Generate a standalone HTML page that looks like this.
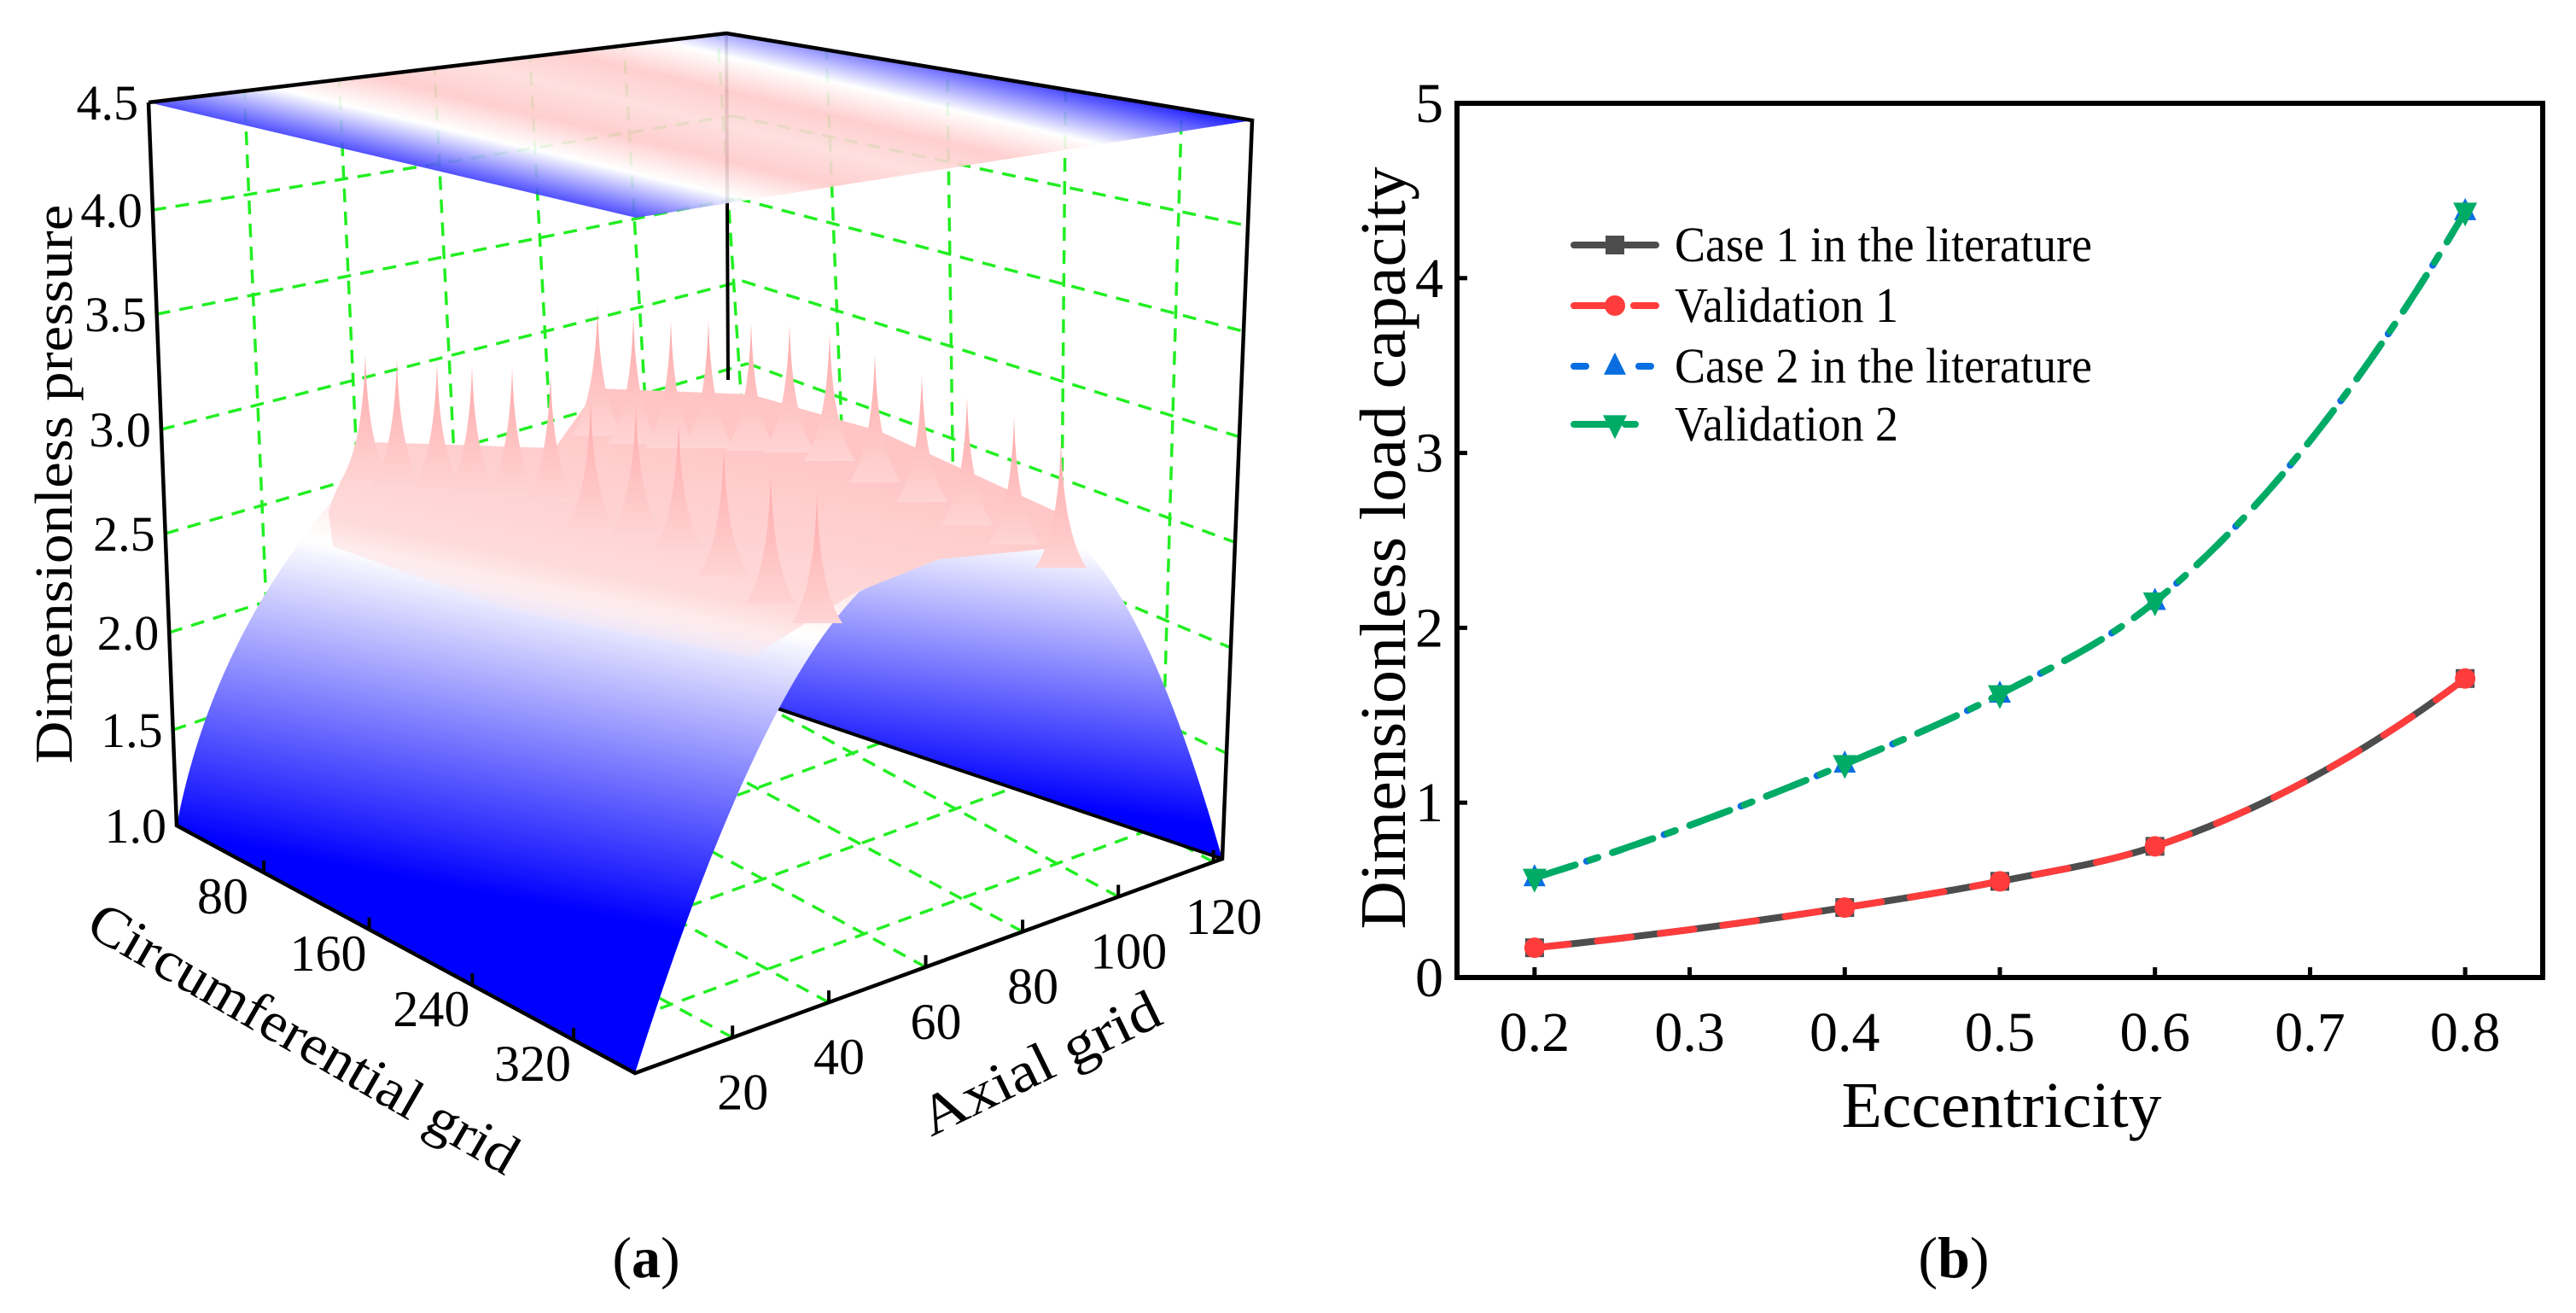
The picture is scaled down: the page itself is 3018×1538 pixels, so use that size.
<!DOCTYPE html>
<html><head><meta charset="utf-8"><style>
html,body{margin:0;padding:0;background:#fff;}
svg{display:block;font-family:"Liberation Serif",serif;}
text{font-family:"Liberation Serif",serif;}
</style></head><body>
<svg id="fig" width="3018" height="1538" viewBox="0 0 3018 1538" xmlns="http://www.w3.org/2000/svg" font-family="Liberation Serif, serif">
<defs>
<linearGradient id="gMain" gradientUnits="userSpaceOnUse" x1="450" y1="380" x2="330" y2="1000">
<stop offset="0" stop-color="#ffb8b8"/><stop offset="0.3" stop-color="#ffe4e4"/><stop offset="0.42" stop-color="#ffffff"/><stop offset="1" stop-color="#0000ff"/></linearGradient>
<linearGradient id="gRight" gradientUnits="userSpaceOnUse" x1="1180" y1="630" x2="1140" y2="930">
<stop offset="0" stop-color="#ffffff"/><stop offset="1" stop-color="#0000ff"/></linearGradient>
<linearGradient id="gBand" gradientUnits="userSpaceOnUse" x1="760" y1="470" x2="700" y2="760">
<stop offset="0" stop-color="#ffc4c4"/><stop offset="0.7" stop-color="#ffdada"/><stop offset="1" stop-color="#ffecec" stop-opacity="0"/></linearGradient>
<linearGradient id="gSpike" x1="0" y1="0" x2="0" y2="1">
<stop offset="0" stop-color="#ffa8a8"/><stop offset="1" stop-color="#ffd4d4"/></linearGradient>
<linearGradient id="gTop" gradientUnits="userSpaceOnUse" x1="460" y1="200" x2="525" y2="-75">
<stop offset="0" stop-color="#1010ff"/><stop offset="0.22" stop-color="#ffffff"/><stop offset="0.36" stop-color="#ffcaca"/><stop offset="0.5" stop-color="#ffdcdc"/><stop offset="0.64" stop-color="#ffcaca"/><stop offset="0.78" stop-color="#ffffff"/><stop offset="1" stop-color="#1010ff"/></linearGradient>
</defs>
<g id="left"></g>
<g id="right"></g>
</svg>
<script>
// ---------- right chart data ----------
const eccentricity = [0.2, 0.4, 0.5, 0.6, 0.8];
const case1Values = [0.17, 0.40, 0.55, 0.75, 1.71];
const validation1Values = [0.17, 0.40, 0.55, 0.75, 1.71];
const case2Values = [0.57, 1.22, 1.62, 2.15, 4.38];
const validation2Values = [0.57, 1.22, 1.62, 2.15, 4.38];
const xTickLabels = ["0.2","0.3","0.4","0.5","0.6","0.7","0.8"];
const yTickLabels = ["0","1","2","3","4","5"];
const legendLabels = ["Case 1 in the literature","Validation 1","Case 2 in the literature","Validation 2"];
// ---------- left chart data ----------
const zTickLabels = ["1.0","1.5","2.0","2.5","3.0","3.5","4.0","4.5"];
const circTickLabels = ["80","160","240","320"];
const axialTickLabels = ["20","40","60","80","100","120"];

const NS = "http://www.w3.org/2000/svg";
function mk(parent, tag, attrs, text){
  const e = document.createElementNS(NS, tag);
  for (const k in attrs) e.setAttribute(k, attrs[k]);
  if (tag === 'text') e.setAttribute('font-family', 'Liberation Serif, serif');
  if (text !== undefined) e.textContent = text;
  parent.appendChild(e); return e;
}

// ================= RIGHT CHART =================
const R = document.getElementById('right');
const px0 = 1707, px1 = 2979, py0 = 1145, py1 = 121;
const xMin = 0.15, xMax = 0.85, yMin = 0, yMax = 5;
const xs = v => px0 + (v - xMin) / (xMax - xMin) * (px1 - px0);
const ys = v => py0 - (v - yMin) / (yMax - yMin) * (py0 - py1);

function smoothPath(xv, yv){
  const n = xv.length;
  const h = [], s = [];
  for (let i=0;i<n-1;i++){ h.push(xv[i+1]-xv[i]); s.push((yv[i+1]-yv[i])/h[i]); }
  const m = [];
  for (let i=0;i<n;i++){
    if (i===0) m.push(s[0] - (s[1]-s[0])*h[0]/(h[0]+h[1]));
    else if (i===n-1) m.push(s[n-2] + (s[n-2]-s[n-3])*h[n-2]/(h[n-2]+h[n-3]));
    else m.push((s[i-1]*h[i] + s[i]*h[i-1])/(h[i-1]+h[i]));
  }
  let d = `M${xs(xv[0])},${ys(yv[0])}`;
  for (let i=0;i<n-1;i++){
    const c1x = xv[i]+h[i]/3, c1y = yv[i]+m[i]*h[i]/3;
    const c2x = xv[i+1]-h[i]/3, c2y = yv[i+1]-m[i+1]*h[i]/3;
    d += ` C${xs(c1x)},${ys(c1y)} ${xs(c2x)},${ys(c2y)} ${xs(xv[i+1])},${ys(yv[i+1])}`;
  }
  return d;
}
function marker(g, type, x, y, color, s){
  let el;
  if (type==='square') el = mk(g,'rect',{x:x-s/2,y:y-s/2,width:s,height:s,fill:color});
  else if (type==='circle') el = mk(g,'circle',{cx:x,cy:y,r:s/2,fill:color});
  else if (type==='up') el = mk(g,'polygon',{points:`${x},${y-s*0.62} ${x-s/2},${y+s*0.38} ${x+s/2},${y+s*0.38}`,fill:color});
  else el = mk(g,'polygon',{points:`${x},${y+s*0.62} ${x-s/2},${y-s*0.38} ${x+s/2},${y-s*0.38}`,fill:color});
  return el;
}
const seriesDefs = [
  {vals:case1Values, color:'#4d4d4d', dash:'', m:'square', ms:22, name:'series-case-1'},
  {vals:validation1Values, color:'#ff3c3c', dash:'40 34', m:'circle', ms:24, name:'series-validation-1'},
  {vals:case2Values, color:'#0a6ee0', dash:'12 20', m:'up', ms:26, name:'series-case-2'},
  {vals:validation2Values, color:'#00ab66', dash:'50 18 10 18', m:'down', ms:28, name:'series-validation-2'}
];
seriesDefs.forEach(s=>{
  const g = mk(R,'g',{});
  
  
  const path = mk(g,'path',{d:smoothPath(eccentricity, s.vals), fill:'none', stroke:s.color, 'stroke-width':8, 'stroke-dasharray':s.dash, 'stroke-linecap':'round'});
  
  
  eccentricity.forEach((x,i)=>{
    const mEl = marker(g, s.m, xs(x), ys(s.vals[i]), s.color, s.ms);
    
    
  });
});
const frame = mk(R,'rect',{x:px0,y:py1,width:px1-px0,height:py0-py1,fill:'none',stroke:'#000','stroke-width':6});


xTickLabels.forEach(t=>{
  const x = xs(parseFloat(t));
  const tk = mk(R,'line',{x1:x,y1:py0,x2:x,y2:py0-12,stroke:'#000','stroke-width':5});
  
  
  const lb = mk(R,'text',{x:x,y:py0+86,'font-size':66,'text-anchor':'middle'},t);
  
  
});
yTickLabels.forEach(t=>{
  const y = ys(parseFloat(t));
  const tk = mk(R,'line',{x1:px0,y1:y,x2:px0+12,y2:y,stroke:'#000','stroke-width':5});
  
  
  const lb = mk(R,'text',{x:px0-16,y:y+22,'font-size':66,'text-anchor':'end'},t);
  
  
});
const xt = mk(R,'text',{x:2345,y:1320,'font-size':76,'text-anchor':'middle',textLength:375,lengthAdjust:'spacingAndGlyphs'},'Eccentricity');


const yt = mk(R,'text',{x:0,y:0,'font-size':76,'text-anchor':'middle',textLength:893,lengthAdjust:'spacingAndGlyphs',transform:'translate(1646,642) rotate(-90)'},'Dimensionless load capacity');


const legRows = [287, 358, 429, 497];
legendLabels.forEach((lab,i)=>{
  const s = seriesDefs[i];
  const g = mk(R,'g',{});
  
  
  const y = legRows[i];
  let d;
  if (i===0) d='';
  else if (i===1) d='48 22';
  else if (i===2) d='14 62';
  else d='44 16 12 40';
  mk(g,'line',{x1:1844,y1:y,x2:1940,y2:y,stroke:s.color,'stroke-width':8,'stroke-dasharray':d,'stroke-linecap':'round'});
  marker(g, s.m, 1892, y, s.color, s.ms);
  mk(g,'text',{x:1962,y:y+19,'font-size':58,textLength:(i%2===0?489:262),lengthAdjust:'spacingAndGlyphs'},lab);
});
const pb = mk(R,'text',{x:2289,y:1496,'font-size':68,'text-anchor':'middle'},'');


mk(pb,'tspan',{},'(');mk(pb,'tspan',{'font-weight':'bold'},'b');mk(pb,'tspan',{},')');

// ================= LEFT CHART =================
const L = document.getElementById('left');
const A=[174,120], Lb=[207,967], F=[744,1257], Rb=[1432,1006], RT=[1467,141], BT=[851,39], BB=[Rb[0]+Lb[0]-F[0], Rb[1]+Lb[1]-F[1]], TF=[745,255];
const lerp=(p,q,t)=>[p[0]+(q[0]-p[0])*t, p[1]+(q[1]-p[1])*t];
const zLeftY = [967,855,741,625,503,368,246,120];
const zFrac = i => i/7;
const leftEdge = i => { const y=zLeftY[i]; const t=(y-A[1])/(Lb[1]-A[1]); return [A[0]+(Lb[0]-A[0])*t, y]; };
const backEdge = i => lerp(BB, BT, zFrac(i));
const rightEdge = i => lerp(Rb, RT, zFrac(i));
const circFrac = [0.19, 0.42, 0.645, 0.866];
const axialFrac = [0.166, 0.33, 0.495, 0.66, 0.823, 0.985];
const grid = mk(L,'g',{stroke:'#22ee22','stroke-width':3.5,'stroke-dasharray':'16 11',fill:'none'});


const ln=(p,q)=>mk(grid,'line',{x1:p[0],y1:p[1],x2:q[0],y2:q[1]});
for (let i=1;i<zTickLabels.length;i++){ ln(leftEdge(i), backEdge(i)); ln(backEdge(i), rightEdge(i)); }
axialFrac.forEach(a=>{
  ln(lerp(Lb,BB,a), lerp(A,BT,a));
  const s = lerp(F,Rb,a); ln(s, [s[0]+Lb[0]-F[0], s[1]+Lb[1]-F[1]]);
});
circFrac.forEach(c=>{
  ln(lerp(BB,Rb,c), lerp(BT,RT,c));
  const s = lerp(Lb,F,c); ln(s, [s[0]+Rb[0]-F[0], s[1]+Rb[1]-F[1]]);
});
mk(L,'line',{x1:BT[0],y1:BT[1],x2:853,y2:445,stroke:'#000','stroke-width':4});
const surf = mk(L,'g',{});


mk(surf,'path',{d:`M861,813 C930,725 1000,690 1100,655 L1238,619 C1300,650 1365,770 1432,1006 Z`,fill:'url(#gRight)'});
mk(surf,'line',{x1:861,y1:813,x2:1432,y2:1006,stroke:'#000','stroke-width':4});
mk(surf,'path',{d:`M207,967 C235,820 300,690 395,580 L1010,690 C960,740 870,860 744,1257 Z`,fill:'url(#gMain)'});
mk(surf,'path',{d:`M385,600 Q400,545 440,518 L650,525 L700,455 L880,462 L1030,505 L1250,605 L1255,640 L1100,655 L1000,695 L880,770 L600,715 L390,640 Z`,fill:'url(#gBand)'});
const spikes = [[428,415],[465,420],[512,425],[553,428],[600,430],[645,438],[700,360],[742,370],[786,375],[830,375],[880,378],[925,380],[972,390],[1025,415],[1080,438],[1133,465],[1188,488],[1243,515],[692,470],[745,475],[795,495],[848,525],[903,558],[957,580]];
spikes.forEach(([x,y])=>{
  mk(surf,'path',{d:`M${x-30},${y+150} Q${x-3},${y+110} ${x},${y} Q${x+3},${y+110} ${x+30},${y+150} Z`,fill:'url(#gSpike)'});
});
const tp = mk(L,'polygon',{points:`${A} ${BT} ${RT} ${TF}`,fill:'url(#gTop)','fill-opacity':0.9});


const ax = mk(L,'g',{stroke:'#000','stroke-width':4.5,fill:'none'});


mk(ax,'polyline',{points:`${A} ${Lb} ${F} ${Rb} ${RT} ${BT} ${A}`});
zTickLabels.forEach((t,i)=>{
  const p = leftEdge(i);
  const lb = mk(L,'text',{x:p[0]-12,y:p[1]+20,'font-size':58,'text-anchor':'end'},t);
  
  
});
circTickLabels.forEach((t,i)=>{
  const p = lerp(Lb,F,circFrac[i]);
  mk(L,'line',{x1:p[0],y1:p[1],x2:p[0],y2:p[1]-14,stroke:'#000','stroke-width':4});
  const lb = mk(L,'text',{x:p[0]-48,y:p[1]+48,'font-size':60,'text-anchor':'middle'},t);
  
  
});
axialTickLabels.forEach((t,i)=>{
  const p = lerp(F,Rb,axialFrac[i]);
  mk(L,'line',{x1:p[0],y1:p[1],x2:p[0],y2:p[1]-14,stroke:'#000','stroke-width':4});
  const lb = mk(L,'text',{x:p[0]+12,y:p[1]+84,'font-size':60,'text-anchor':'middle'},t);
  
  
});
const zt = mk(L,'text',{x:0,y:0,'font-size':62,'text-anchor':'middle',textLength:655,lengthAdjust:'spacingAndGlyphs',transform:'translate(84,567) rotate(-90)'},'Dimensionless pressure');


const ct = mk(L,'text',{x:0,y:0,'font-size':66,'text-anchor':'middle',textLength:570,lengthAdjust:'spacingAndGlyphs',transform:'translate(345,1235) rotate(30)'},'Circumferential grid');


const at = mk(L,'text',{x:0,y:0,'font-size':66,'text-anchor':'middle',textLength:305,lengthAdjust:'spacingAndGlyphs',transform:'translate(1228,1265) rotate(-26)'},'Axial grid');


const pa = mk(L,'text',{x:757,y:1496,'font-size':68,'text-anchor':'middle'},'');


mk(pa,'tspan',{},'(');mk(pa,'tspan',{'font-weight':'bold'},'a');mk(pa,'tspan',{},')');
</script>
</body></html>
